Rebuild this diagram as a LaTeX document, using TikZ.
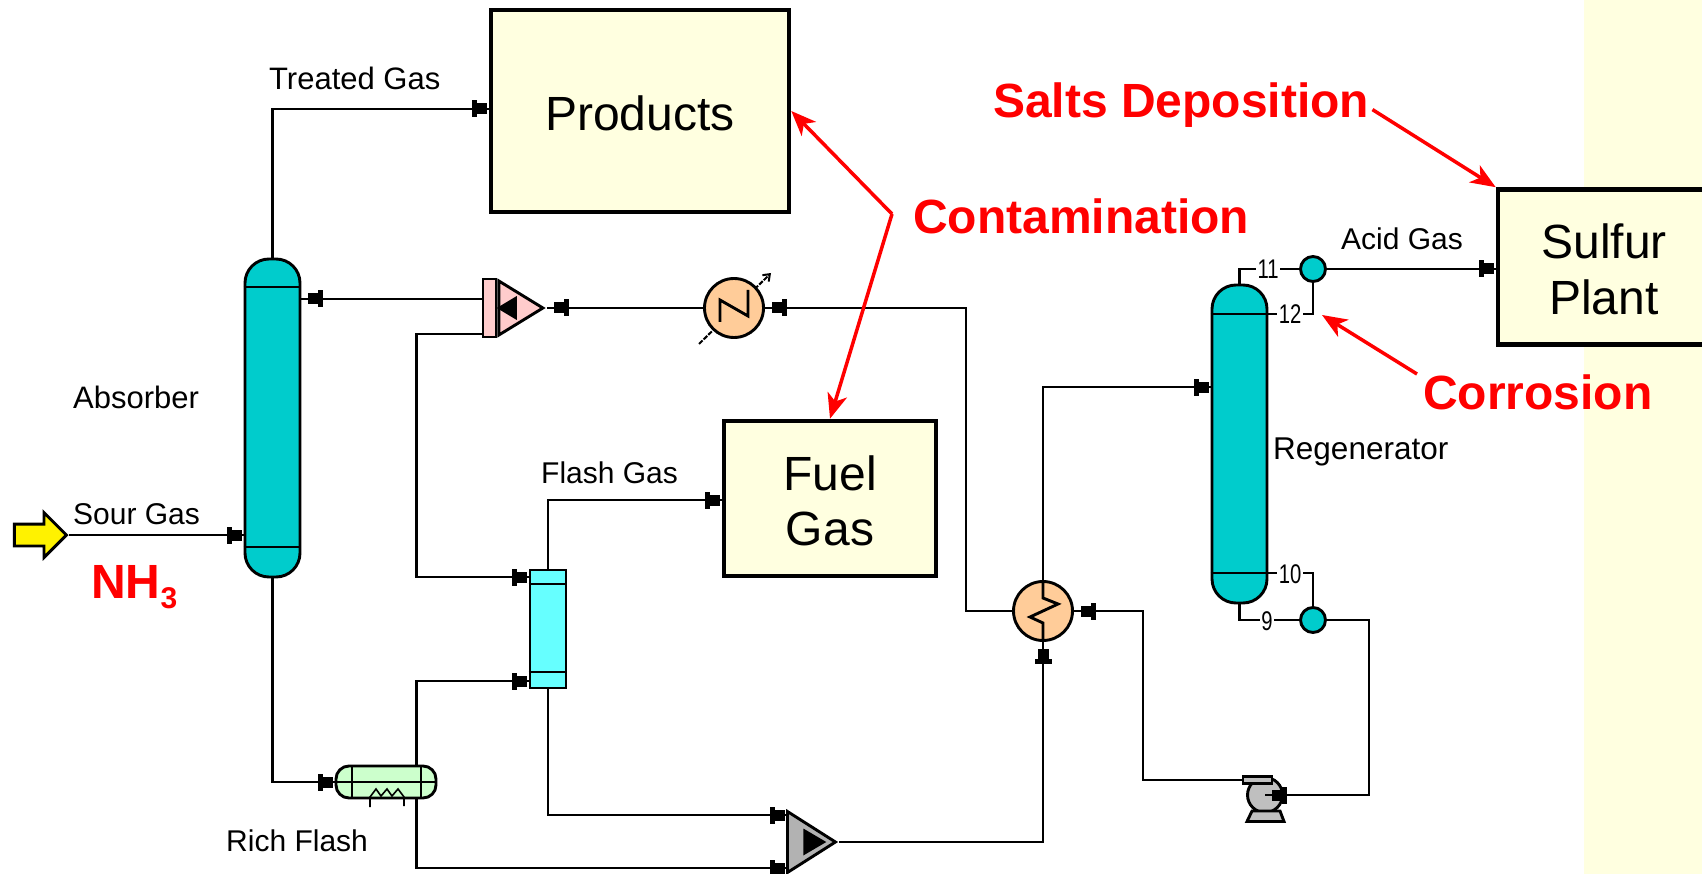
\documentclass[tikz,border=0pt]{standalone}
\usepackage{fontspec}
\setmainfont{Liberation Sans}
\usetikzlibrary{arrows.meta, decorations.markings, shapes.geometric, shapes.arrows}
\definecolor{BoxFill}{HTML}{FFFFE0}
\definecolor{ColumnFill}{HTML}{00CCCC}
\definecolor{DrumFill}{HTML}{66FFFF}
\definecolor{SplitFill}{HTML}{FFCCCC}
\definecolor{HeatFill}{HTML}{FFCC99}
\definecolor{FlashFill}{HTML}{CCFFCC}
\tikzset{Block/.tip={Rectangle[length=5pt,width=17pt] Rectangle[length=10pt,width=11pt]}}
\tikzstyle{Stream} = [line width=2.9pt]
\tikzstyle{Feed} = [
Stream,
decoration={
markings,
mark=at position -1.5pt with {\arrow{Block}}},
postaction = {decorate}]
\tikzstyle{FeedGap} = [
Stream,
decoration={
markings,
mark=at position -7pt with {\arrow{Block}}},
postaction = {decorate}]
\tikzstyle{Alarm} = [red, line width=3.5pt, -{Stealth[length=25pt,width=20pt,inset=7pt]}]
\tikzstyle{Box} = [rectangle, draw, fill=BoxFill, line width=4.6pt, outer sep=2.3pt, align=center,
font=\fontsize{48}{55.5}\selectfont]
\tikzstyle{Column} = [rectangle, draw, fill=ColumnFill, line width=2.9pt, minimum width=55pt, rounded corners=24pt]
\tikzstyle{Ball} = [circle, draw, fill=ColumnFill, line width=2.9pt, minimum size=25pt, inner sep=0pt]
\tikzstyle{Heat} = [circle, draw, fill=HeatFill, line width=2.9pt, minimum size=59pt, inner sep=0pt]
\tikzstyle{Wedge} = [isosceles triangle, isosceles triangle stretches, draw, line width=2.9pt, inner sep=0pt]
\tikzstyle{Core} = [isosceles triangle, isosceles triangle stretches, fill=black, inner sep=0pt]
\tikzstyle{Tag} = [anchor=base west, inner sep=0pt, font=\fontsize{30}{30}\selectfont]
\tikzstyle{Tray} = [fill=white, anchor=base, inner ysep=0pt, inner xsep=1.5pt, font=\fontsize{27}{27}\selectfont]
\tikzstyle{Alert} = [anchor=base west, inner sep=0pt, text=red, font=\fontsize{48}{48}\bfseries\selectfont]
\newcommand{\traynum}[1]{\scalebox{.75}[1]{#1}}
\newcommand{\boxline}{\rule{0pt}{39pt}}
\begin{document}
\begin{tikzpicture}[x=1pt, y=-1pt]
    \useasboundingbox (0,0) rectangle (1702,874);
    \fill [BoxFill] (1584,0) rectangle (1702,874);
    \node [Box, minimum width=298pt, minimum height=202pt] (Products) at (640,111) {\boxline Products};
    \node [Box, minimum width=212pt, minimum height=155pt] (FuelGas) at (830,498.5) {\boxline Fuel\\Gas};
    \node [Box, minimum width=212pt, minimum height=155pt] (Sulfur) at (1604,267) {\boxline Sulfur\\Plant};
    \node [Column, minimum height=318pt] (Absorber) at (272.5,418) {};
    \node [Column, minimum height=318pt] (Regenerator) at (1239.5,444) {};
    \node [rectangle, draw, fill=DrumFill, line width=2.9pt, minimum width=36pt, minimum height=118pt] (FlashDrum) at (548,629) {};
    \node [rectangle, draw, fill=FlashFill, line width=2.9pt, minimum width=100pt, minimum height=32pt, rounded corners=13pt] (RichFlash) at (386,782) {};
    \node [rectangle, draw, fill=SplitFill, line width=2.9pt, minimum width=13pt, minimum height=58pt] (Splitter) at (489.5,308) {};
    \node [Wedge, fill=SplitFill, minimum width=54pt, minimum height=44pt, anchor=lower side] (SplitterTip) at (Splitter.east) {};
    \node [Core, shape border rotate=180, minimum width=24pt, minimum height=20pt] (SplitterCore) at (510,308) {};
    \node [Wedge, fill=black!30, minimum width=61pt, minimum height=48pt, anchor=lower side] (Merger) at (786,842) {};
    \node [Core, minimum width=27pt, minimum height=23pt] (MergerCore) at (811,842) {};
    \draw [line width=2pt, dash pattern=on 5pt off 1.5pt, -{Straight Barb[length=6pt,width=9pt]}] (699,344) -- (771,273);
    \node [Heat] (Cooler) at (734,308) {};
    \node [Heat] (Exchanger) at (1043,611) {};
    \node [Ball] (TopBall) at (1313,269) {};
    \node [Ball] (BottomBall) at (1313,620) {};
    \node [single arrow, draw, fill=yellow, line width=2.9pt, inner ysep=9.5pt, inner xsep=0pt, minimum height=52pt, single arrow head extend=11.5pt, anchor=tip] (SourFeed) at (68.5,535) {};
    \node [circle, draw, fill=black!25, line width=2.9pt, minimum size=35pt, inner sep=0pt] (Pump) at (1265,795) {};
    \node [rectangle, draw, fill=black!25, line width=2.9pt, minimum width=29pt, minimum height=7pt, inner sep=0pt] (PumpOut) at (1257.5,780) {};
    \draw [fill=black!25, line width=2.9pt] (1252,811) -- (1280,811) -- (1284,821.5) -- (1247,821.5) -- cycle;

    \draw [Stream] (Absorber.west |- 0,287) -- (Absorber.east |- 0,287);
    \draw [Stream] (Absorber.west |- 0,547) -- (Absorber.east |- 0,547);
    \draw [Stream] (Regenerator.west |- 0,314) -- (Regenerator.east |- 0,314);
    \draw [Stream] (Regenerator.west |- 0,573) -- (Regenerator.east |- 0,573);
    \draw [Stream] (FlashDrum.west |- 0,584) -- (FlashDrum.east |- 0,584);
    \draw [Stream] (FlashDrum.west |- 0,672) -- (FlashDrum.east |- 0,672);
    \draw [Stream] (352,766) -- (352,798);
    \draw [Stream] (421,766) -- (421,798);
    \draw [Stream] (RichFlash.west) -- (RichFlash.east);
    \draw [line width=1.6pt] (370,807) -- (370,797) -- (376,789) -- (381,796) -- (387,789) -- (392,796) -- (398,789) -- (404,797) -- (404,806);
    \draw [Stream] (720,322) -- (720,300) -- (748,316) -- (748,290);
    \draw [Stream] (1043,582) -- (1043,598) -- (1058,604) -- (1030,617) -- (1043,623) -- (1043,640);

    \draw [Feed] (SourFeed.tip) -- (Absorber.west |- SourFeed.tip);
    \draw [Feed] (Absorber.north) |- (Products.west |- 0,109);
    \draw [FeedGap] (Splitter.west |- 0,299) -- (Absorber.east |- 0,299);
    \draw [Feed] (Splitter.west |- 0,334) -- (416.5,334) |- (FlashDrum.west |- 0,577);
    \draw [FeedGap] (Cooler.west) -- (SplitterTip.apex);
    \draw [FeedGap] (Exchanger.west) -- (966,611) |- (Cooler.east);
    \draw [FeedGap] (PumpOut.west) -- (1143,780) |- (Exchanger.east);
    \draw [Feed] (FlashDrum.north) |- (FuelGas.west |- 0,500);
    \draw [Feed] (FlashDrum.south) |- (Merger.lower side |- 0,815);
    \draw [Feed] (Absorber.south) |- (RichFlash.west);
    \draw [Feed] ([xshift=30.5pt]RichFlash.north) |- (FlashDrum.west |- 0,681);
    \draw [Feed] ([xshift=30.5pt]RichFlash.south) |- (Merger.lower side |- 0,868);
    \draw [FeedGap] (Merger.apex) -| (Exchanger.south);
    \draw [Feed] (Exchanger.north) |- (Regenerator.west |- 0,387);
    \draw [Stream] (Regenerator.north) |- (TopBall.west);
    \draw [Feed] (TopBall.east) -- (Sulfur.west |- TopBall.east);
    \draw [Stream] (Regenerator.east |- 0,314) -| (TopBall.south);
    \draw [Stream] (Regenerator.east |- 0,573) -| (BottomBall.north);
    \draw [Stream] (Regenerator.south) |- (BottomBall.west);
    \draw [FeedGap] (BottomBall.east) -- (1369,620) |- (Pump.center);

    \node [Tray] (T11) at (1268,279) {\traynum{11}};
    \node [Tray] (T12) at (1290,324) {\traynum{12}};
    \node [Tray] (T10) at (1290,583) {\traynum{10}};
    \node [Tray] (T9) at (1267,630) {\traynum{9}};

    \node [Tag, font=\fontsize{31}{30}\selectfont] (TreatedGas) at (269,90) {Treated Gas};
    \node [Tag] (SourGas) at (73,524) {Sour Gas};
    \node [Tag, font=\fontsize{31}{30}\selectfont] (AbsorberName) at (73,408) {Absorber};
    \node [Tag] (RichName) at (226,851) {Rich Flash};
    \node [Tag] (FlashGas) at (541,483) {Flash Gas};
    \node [Tag] (AcidGas) at (1341,250) {Acid Gas};
    \node [Tag, font=\fontsize{31.5}{30}\selectfont] (RegeneratorName) at (1273,459) {Regenerator};

    \node [Alert] (NH) at (91,598) {NH\raisebox{-10pt}{\fontsize{30}{30}\selectfont 3}};
    \node [Alert] (Contamination) at (913,234) {Contamination};
    \node [Alert] (Salts) at (993,118) {Salts Deposition};
    \node [Alert] (Corrosion) at (1423,409) {Corrosion};
    \coordinate (Fork) at (892,214);
    \coordinate (Leak) at (1322,315);
    \draw [Alarm] (Fork) -- (Products.east);
    \draw [Alarm] (Fork) -- (FuelGas.north);
    \draw [Alarm] ([xshift=3pt,yshift=-4pt]Salts.east) -- (Sulfur.north west);
    \draw [Alarm] ([xshift=-6pt]Corrosion.north west) -- (Leak);
\end{tikzpicture}
\end{document}
